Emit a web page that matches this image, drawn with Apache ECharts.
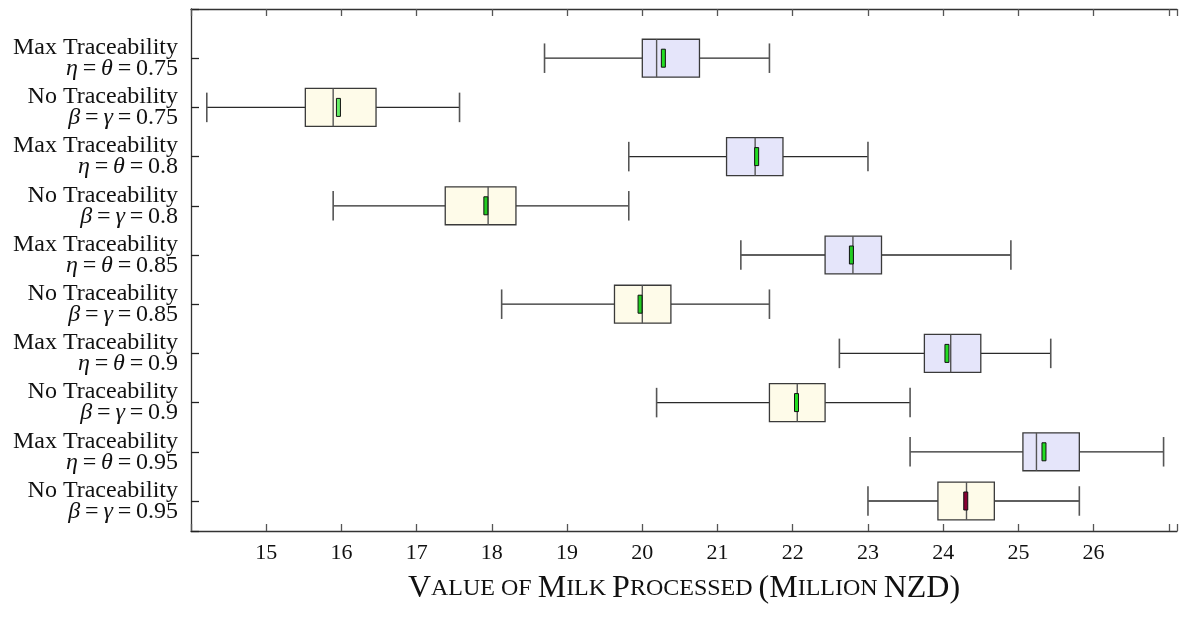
<!DOCTYPE html>
<html>
<head>
<meta charset="utf-8">
<script src="https://cdn.jsdelivr.net/npm/echarts@6/dist/echarts.min.js"></script>
<style>html,body{margin:0;padding:0;background:#fff;}#chart{width:1180px;height:619px;}</style>
</head>
<body>
<div id="chart"></div>
<script>
// ---- data ----
const groupNames = ['Max Traceability','No Traceability','Max Traceability','No Traceability','Max Traceability','No Traceability','Max Traceability','No Traceability','Max Traceability','No Traceability'];
const paramSymbols = [['η','θ'],['β','γ'],['η','θ'],['β','γ'],['η','θ'],['β','γ'],['η','θ'],['β','γ'],['η','θ'],['β','γ']];
const paramValues = ['0.75','0.75','0.8','0.8','0.85','0.85','0.9','0.9','0.95','0.95'];
const whiskerLow  = [18.70, 14.21, 19.82, 15.89, 21.31, 18.13, 22.62, 20.19, 23.56, 23.00];
const q1          = [20.00, 15.52, 21.12, 17.38, 22.43, 19.63, 23.75, 21.69, 25.06, 23.93];
const median      = [20.19, 15.89, 21.50, 17.95, 22.80, 20.00, 24.10, 22.06, 25.24, 24.31];
const q3          = [20.76, 16.46, 21.87, 18.32, 23.18, 20.38, 24.50, 22.43, 25.81, 24.68];
const whiskerHigh = [21.69, 17.57, 23.00, 19.82, 24.90, 21.69, 25.43, 23.56, 26.93, 25.81];
const meanValue   = [20.28, 15.96, 21.52, 17.92, 22.78, 19.97, 24.05, 22.05, 25.34, 24.30];
const meanColor   = ['#22dd22','#66ee66','#22dd22','#22cc22','#22cc22','#22cc22','#22dd22','#22dd22','#22dd22','#880033'];
const xTickLabels = [15,16,17,18,19,20,21,22,23,24,25,26];
const xAxisTitle = '{b|V}{s|ALUE OF }{b|M}{s|ILK }{b|P}{s|ROCESSED }{b|(M}{s|ILLION }{b|NZD)}';

const boxFill = ['#e5e5fa','#fefbe9'];

const data = groupNames.map((g, i) => [i + 1, whiskerLow[i], q1[i], median[i], q3[i], whiskerHigh[i], meanValue[i], i]);

const chart = echarts.init(document.getElementById('chart'), null, {renderer: 'canvas'});
const serif = '"Liberation Serif", "DejaVu Serif", serif';

function renderItem(params, api) {
  const pos = api.value(0);
  const idx = api.value(7);
  const unit = api.size([0, 1])[1];
  const bh = unit * 0.385;
  const ch = unit * 0.30;
  const pWL = api.coord([api.value(1), pos]);
  const pQ1 = api.coord([api.value(2), pos]);
  const pMd = api.coord([api.value(3), pos]);
  const pQ3 = api.coord([api.value(4), pos]);
  const pWH = api.coord([api.value(5), pos]);
  const pMn = api.coord([api.value(6), pos]);
  const y = pQ1[1];
  const lineStyle = {stroke: '#2a2a2a', lineWidth: 1.3};
  const capStyle = {stroke: '#555', lineWidth: 1.6};
  return {
    type: 'group',
    children: [
      {type: 'line', shape: {x1: pWL[0], y1: y, x2: pQ1[0], y2: y}, style: lineStyle},
      {type: 'line', shape: {x1: pQ3[0], y1: y, x2: pWH[0], y2: y}, style: lineStyle},
      {type: 'line', shape: {x1: pWL[0], y1: y - ch, x2: pWL[0], y2: y + ch}, style: capStyle},
      {type: 'line', shape: {x1: pWH[0], y1: y - ch, x2: pWH[0], y2: y + ch}, style: capStyle},
      {type: 'rect', shape: {x: pQ1[0], y: y - bh, width: pQ3[0] - pQ1[0], height: 2 * bh},
        style: {fill: boxFill[idx % 2], stroke: '#3a3a3a', lineWidth: 1.3}},
      {type: 'line', shape: {x1: pMd[0], y1: y - bh, x2: pMd[0], y2: y + bh}, style: {stroke: '#555', lineWidth: 1.4}},
      {type: 'rect', shape: {x: pMn[0] - 2, y: y - 9, width: 4, height: 18},
        style: {fill: meanColor[idx], stroke: '#111', lineWidth: 1}}
    ]
  };
}

const rich = {
  n: {fontFamily: serif, fontSize: 24, color: '#111', lineHeight: 21, align: 'right'},
  i: {fontFamily: serif, fontSize: 24, fontStyle: 'italic', color: '#111', lineHeight: 21}
};

const xMax = 14 + 991 / 75.6;

chart.setOption({
  animation: false,
  backgroundColor: '#fff',
  grid: {left: 191, top: 9, width: 991, bottom: 88},
  xAxis: [{
    type: 'value', min: 14, max: xMax, interval: 1, position: 'bottom',
    axisLine: {show: true, onZero: false, lineStyle: {color: '#333', width: 1.3}},
    axisTick: {show: true, inside: true, length: 7, lineStyle: {color: '#555', width: 1.3}},
    splitLine: {show: false},
    axisLabel: {
      margin: 11, fontFamily: serif, fontSize: 22, color: '#111',
      formatter: v => (xTickLabels.indexOf(Math.round(v * 1000) / 1000) >= 0 ? String(v) : '')
    },
    name: xAxisTitle, nameLocation: 'middle', nameGap: 42,
    nameTextStyle: {
      rich: {
        b: {fontFamily: serif, fontSize: 32, color: '#111'},
        s: {fontFamily: serif, fontSize: 24, color: '#111'}
      }
    }
  }, {
    type: 'value', min: 14, max: xMax, interval: 1, position: 'top',
    axisLine: {show: true, onZero: false, lineStyle: {color: '#333', width: 1.3}},
    axisTick: {show: true, inside: true, length: 7, lineStyle: {color: '#555', width: 1.3}},
    splitLine: {show: false}, axisLabel: {show: false}
  }],
  yAxis: {
    type: 'value', inverse: true, min: 0, max: 10.61, interval: 1,
    axisLine: {show: true, onZero: false, lineStyle: {color: '#333', width: 1.3}},
    axisTick: {show: true, inside: true, length: 8, lineStyle: {color: '#222', width: 1.3}},
    splitLine: {show: false},
    axisLabel: {
      margin: 13, align: 'right', rich: rich,
      formatter: v => {
        const k = Math.round(v) - 1;
        if (k < 0 || k >= groupNames.length || Math.abs(v - Math.round(v)) > 1e-6) return '';
        const s = paramSymbols[k];
        return '{n|' + groupNames[k] + '}\n{i|' + s[0] + '}{n|\u2009=\u2009}{i|' + s[1] + '}{n|\u2009=\u2009' + paramValues[k] + '}';
      }
    }
  },
  series: [{
    type: 'custom',
    renderItem: renderItem,
    encode: {x: [1, 2, 3, 4, 5, 6], y: 0},
    data: data,
    clip: false
  }]
});
</script>
</body>
</html>
